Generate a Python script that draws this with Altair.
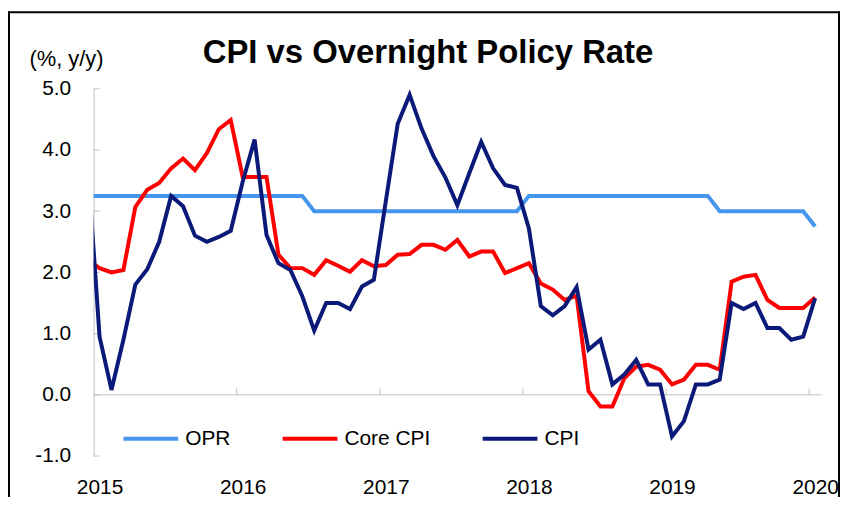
import altair as alt
import pandas as pd

# month slots: Dec 2014 (partly outside the axis) through Jan 2020
months = [f"{y}-{m:02d}" for y in range(2014, 2021) for m in range(1, 13)][11:73]

opr = [3.25] * 19 + [3.00] * 18 + [3.25] * 16 + [3.00] * 8 + [2.75]

core_cpi = [2.20, 2.07, 2.00, 2.04, 3.07, 3.35, 3.46, 3.70, 3.86, 3.67, 3.95, 4.34, 4.49,
            3.56, 3.56, 3.56, 2.29, 2.07, 2.07, 1.96, 2.20, 2.11, 2.01, 2.20, 2.10,
            2.12, 2.29, 2.30, 2.45, 2.45, 2.37, 2.53, 2.26, 2.34, 2.34, 1.99, 2.07,
            2.15, 1.82, 1.72, 1.55, 1.62, 0.06, -0.19, -0.19, 0.27, 0.46, 0.49, 0.41,
            0.17, 0.25, 0.49, 0.49, 0.41, 1.85, 1.93, 1.96, 1.55, 1.42, 1.42, 1.42, 1.59]

cpi = [3.80, 0.95, 0.08, 0.90, 1.80, 2.05, 2.50, 3.25, 3.08, 2.60, 2.50, 2.58, 2.68,
       3.48, 4.17, 2.61, 2.15, 2.04, 1.61, 1.05, 1.50, 1.50, 1.40, 1.77, 1.88,
       3.16, 4.43, 4.90, 4.35, 3.90, 3.55, 3.10, 3.62, 4.13, 3.70, 3.43, 3.38,
       2.72, 1.45, 1.30, 1.45, 1.76, 0.74, 0.90, 0.17, 0.33, 0.57, 0.17, 0.17,
       -0.68, -0.43, 0.17, 0.17, 0.25, 1.50, 1.40, 1.50, 1.09, 1.09, 0.90, 0.95, 1.58]

series_names = ["OPR", "Core CPI", "CPI"]
series_colors = ["#4596EC", "#FF0000", "#0B1A78"]

year_label_idx = [0, 12, 24, 36, 48, 60]
year_boundaries = [11.5, 23.5, 35.5, 47.5, 59.5]
y_ticks = [-1, 0, 1, 2, 3, 4, 5]

title_text = "CPI vs Overnight Policy Rate"
unit_text = "(%, y/y)"

rows = []
for name, vals in zip(series_names, [opr, core_cpi, cpi]):
    for i, (m, v) in enumerate(zip(months, vals)):
        rows.append({"month": m, "idx": i - 1, "value": v, "series": name})
df = pd.DataFrame(rows)

W, H = 731, 369
FONT = "Liberation Sans"
FS = 21

xscale = alt.Scale(domain=[-0.5, 60.5], nice=False, zero=False)
yscale = alt.Scale(domain=[-1, 5], nice=False, zero=False)

lines = alt.Chart(df).mark_line(strokeWidth=4, clip=True).encode(
    x=alt.X("idx:Q", scale=xscale,
            axis=alt.Axis(values=year_label_idx, labelExpr="'' + (2015 + datum.value / 12)",
                          ticks=False, domain=False, grid=False, labelPadding=21,
                          labelFontSize=FS, labelColor="black", title=None)),
    y=alt.Y("value:Q", scale=yscale,
            axis=alt.Axis(values=y_ticks,
                          labelExpr="replace(format(datum.value, '.1f'), '\u2212', '-')",
                          ticks=False, grid=False, domainColor="#BFBFBF", domainWidth=1,
                          labelPadding=23, labelFontSize=FS, labelColor="black",
                          title=unit_text, titleAngle=0, titleX=-65, titleY=-23,
                          titleAlign="left", titleBaseline="alphabetic",
                          titleFontWeight="normal", titleFontSize=22, titleColor="black")),
    color=alt.Color("series:N", scale=alt.Scale(domain=series_names, range=series_colors),
                    legend=alt.Legend(orient="none", legendX=28, legendY=322,
                                      direction="horizontal", title=None,
                                      symbolType="stroke", symbolStrokeWidth=4,
                                      symbolSize=3025, labelOffset=5, columnPadding=44,
                                      labelFontSize=FS, labelColor="black", padding=0)),
    detail="series:N",
)

zero_line = alt.Chart(pd.DataFrame({"z": [0]})).mark_rule(color="#BFBFBF", strokeWidth=1).encode(
    y=alt.Y("z:Q", scale=yscale), x=alt.value(0), x2=alt.value(W))

xticks = alt.Chart(pd.DataFrame({"b": year_boundaries})).mark_rule(color="#BFBFBF").encode(
    x=alt.X("b:Q", scale=xscale), y=alt.datum(0), y2=alt.datum(0.1))

yticks = alt.Chart(pd.DataFrame({"t": y_ticks})).mark_rule(color="#BFBFBF").encode(
    y=alt.Y("t:Q", scale=yscale), x=alt.value(0), x2=alt.value(6))

frame_df = pd.DataFrame({"k": [0]})
frame_top = alt.Chart(frame_df).mark_rule(color="black", strokeWidth=2).encode(
    x=alt.value(-86), x2=alt.value(W + 19), y=alt.value(-77))
frame_left = alt.Chart(frame_df).mark_rule(color="black", strokeWidth=2).encode(
    x=alt.value(-85), y=alt.value(-78), y2=alt.value(H + 60))
frame_right = alt.Chart(frame_df).mark_rule(color="black", strokeWidth=2).encode(
    x=alt.value(W + 18), y=alt.value(-78), y2=alt.value(H + 60))

title = alt.Chart(frame_df).mark_text(
    text=title_text, fontSize=33, fontWeight="bold", align="center",
    baseline="alphabetic", color="black", font=FONT).encode(
    x=alt.value(336), y=alt.value(-26))

chart = alt.layer(zero_line, xticks, yticks, lines, frame_top, frame_left, frame_right,
                  title).properties(
    width=W, height=H,
    autosize=alt.AutoSizeParams(type="none"),
    padding={"left": 86, "top": 80, "right": 19, "bottom": 40},
).configure(font=FONT).configure_view(stroke=None)

chart.save("out.html", embed_options={"renderer": "svg", "actions": False})
